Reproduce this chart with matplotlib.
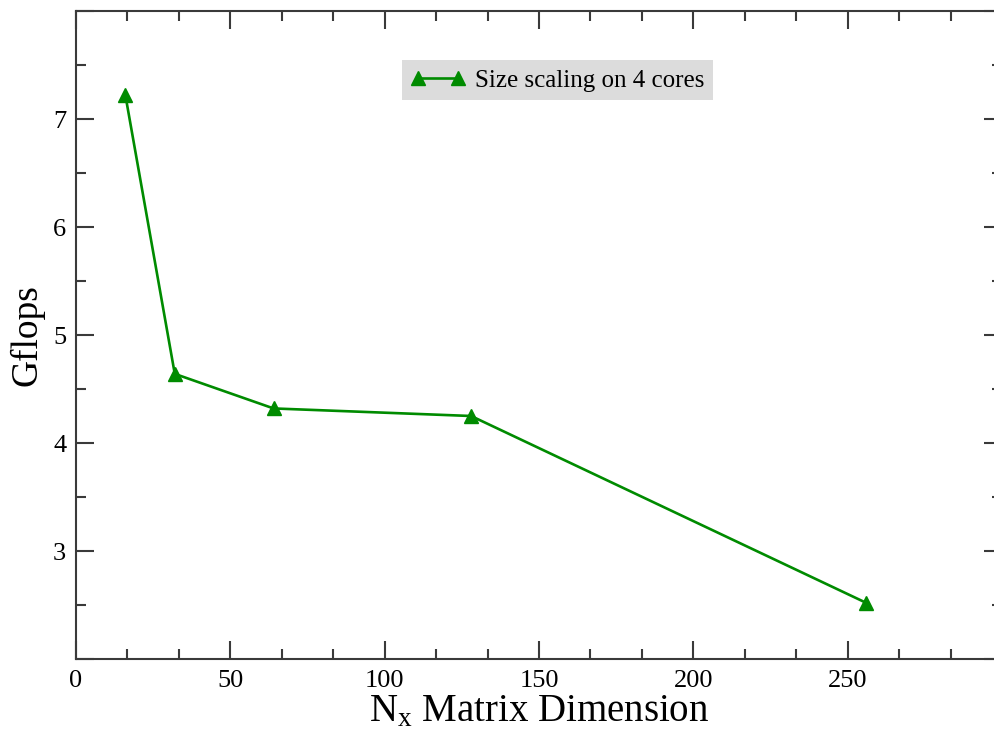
import matplotlib.pyplot as plt
from matplotlib.ticker import MultipleLocator

plt.rcParams['font.family'] = ['Liberation Serif', 'DejaVu Serif']
plt.rcParams['mathtext.fontset'] = 'custom'
plt.rcParams['mathtext.rm'] = 'Liberation Serif'
plt.rcParams['mathtext.it'] = 'Liberation Serif'

# matrix size vs. performance, 4 cores
nx = [16, 32, 64, 128, 256]
gflops = [7.22, 4.64, 4.32, 4.25, 2.52]

green = '#008b00'
axis_col = '#3a3a3a'

fig = plt.figure(figsize=(9.94, 7.40), dpi=100)
ax = fig.add_axes([76 / 994, 81 / 740, 926 / 994, 648 / 740])

ax.plot(nx, gflops, color=green, lw=1.9, marker='^', ms=10,
        label='Size scaling on 4 cores')

ax.set_xlim(0, 300)
ax.set_ylim(2, 8)
ax.xaxis.set_major_locator(MultipleLocator(50))
ax.xaxis.set_minor_locator(MultipleLocator(50 / 3))
ax.yaxis.set_major_locator(MultipleLocator(1))
ax.yaxis.set_minor_locator(MultipleLocator(0.5))
ax.set_xticks([0, 50, 100, 150, 200, 250, 300])
ax.set_xticklabels(['0', '50', '100', '150', '200', '250', ''])
ax.set_yticks([2, 3, 4, 5, 6, 7, 8])
ax.set_yticklabels(['', '3', '4', '5', '6', '7', ''])

ax.tick_params(which='both', direction='in', top=True, right=True,
               color=axis_col, width=1.5, labelsize=19)
ax.tick_params(which='major', length=13)
ax.tick_params(axis='x', which='major', pad=8)
ax.tick_params(axis='y', which='major', pad=7)
ax.tick_params(which='minor', length=7)
for sp in ax.spines.values():
    sp.set_color(axis_col)
    sp.set_linewidth(1.5)

ax.set_xlabel(r'N$_{\mathrm{x}}$ Matrix Dimension', fontsize=28, labelpad=1)
ax.set_ylabel('Gflops', fontsize=27, labelpad=6)

leg = ax.legend(loc='center', bbox_to_anchor=(0.52, 0.893), fontsize=18,
                numpoints=2, handlelength=2.2, fancybox=False,
                framealpha=1, borderpad=0.35, handletextpad=0.4)
leg.get_frame().set_facecolor('#dcdcdc')
leg.get_frame().set_edgecolor('none')

fig.savefig('out.png', dpi=100)
